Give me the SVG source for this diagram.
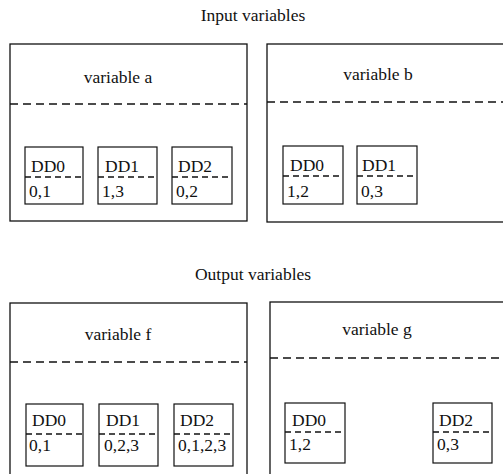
<svg xmlns="http://www.w3.org/2000/svg" width="503" height="474" viewBox="0 0 503 474" font-family="'Liberation Serif', 'DejaVu Serif', serif">
<style>
text{font-family:'Liberation Serif','Times New Roman','DejaVu Serif',serif;fill:#111;font-size:17.5px}
.title{text-anchor:middle}
.vn{text-anchor:middle}
.box{fill:none;stroke:#111;stroke-width:1.3}
.dash{fill:none;stroke:#111;stroke-width:1.3;stroke-dasharray:8 5}
.ddbox{fill:none;stroke:#111;stroke-width:1.2}
.dddash{fill:none;stroke:#111;stroke-width:1.3;stroke-dasharray:6 4}
.dd{font-size:17.5px}
</style>
<rect width="503" height="474" fill="#fff"/>
<text class="title" x="253" y="21">Input variables</text>
<text class="title" x="253" y="280">Output variables</text>

<g id="var-a">
<rect class="box" x="10" y="44" width="237" height="177"/>
<line class="dash" x1="10" y1="104" x2="247" y2="104"/>
<text class="vn" x="118" y="83">variable a</text>
</g>
<g id="a-dd0"><rect class="ddbox" x="25" y="147" width="58" height="57"/><line class="dddash" x1="25" y1="177" x2="83" y2="177"/><text class="dd" x="31" y="172">DD0</text><text class="dd" x="29" y="197">0,1</text></g>
<g id="a-dd1"><rect class="ddbox" x="98" y="147" width="59" height="57"/><line class="dddash" x1="98" y1="177" x2="157" y2="177"/><text class="dd" x="105" y="172">DD1</text><text class="dd" x="102" y="197">1,3</text></g>
<g id="a-dd2"><rect class="ddbox" x="172" y="147" width="60" height="57"/><line class="dddash" x1="172" y1="177" x2="232" y2="177"/><text class="dd" x="178" y="172">DD2</text><text class="dd" x="176" y="197">0,2</text></g>

<g id="var-b">
<rect class="box" x="267" y="44" width="250" height="178"/>
<line class="dash" x1="267" y1="102" x2="503" y2="102"/>
<text class="vn" x="378" y="80">variable b</text>
</g>
<g id="b-dd0"><rect class="ddbox" x="283" y="146" width="60" height="58"/><line class="dddash" x1="283" y1="176" x2="343" y2="176"/><text class="dd" x="290" y="171">DD0</text><text class="dd" x="287" y="197">1,2</text></g>
<g id="b-dd1"><rect class="ddbox" x="357" y="146" width="60" height="58"/><line class="dddash" x1="357" y1="176" x2="417" y2="176"/><text class="dd" x="362" y="171">DD1</text><text class="dd" x="361" y="197">0,3</text></g>

<g id="var-f">
<rect class="box" x="10" y="303" width="237" height="180"/>
<line class="dash" x1="10" y1="362" x2="247" y2="362"/>
<text class="vn" x="118" y="340">variable f</text>
</g>
<g id="f-dd0"><rect class="ddbox" x="26" y="404" width="57" height="62"/><line class="dddash" x1="26" y1="434" x2="83" y2="434"/><text class="dd" x="32" y="426">DD0</text><text class="dd" x="29" y="451">0,1</text></g>
<g id="f-dd1"><rect class="ddbox" x="99" y="404" width="59" height="62"/><line class="dddash" x1="99" y1="434" x2="158" y2="434"/><text class="dd" x="106" y="426">DD1</text><text class="dd" x="104" y="451">0,2,3</text></g>
<g id="f-dd2"><rect class="ddbox" x="174" y="404" width="59" height="62"/><line class="dddash" x1="174" y1="434" x2="233" y2="434"/><text class="dd" x="180" y="426">DD2</text><text class="dd" x="178" y="451">0,1,2,3</text></g>

<g id="var-g">
<rect class="box" x="270" y="302" width="250" height="190"/>
<line class="dash" x1="270" y1="358" x2="503" y2="358"/>
<text class="vn" x="377" y="335">variable g</text>
</g>
<g id="g-dd0"><rect class="ddbox" x="285" y="403" width="60" height="60"/><line class="dddash" x1="285" y1="432" x2="345" y2="432"/><text class="dd" x="292" y="426">DD0</text><text class="dd" x="289" y="450">1,2</text></g>
<g id="g-dd2"><rect class="ddbox" x="433" y="403" width="59" height="60"/><line class="dddash" x1="433" y1="432" x2="492" y2="432"/><text class="dd" x="439" y="426">DD2</text><text class="dd" x="437" y="450">0,3</text></g>
<g id="connectors"/>
</svg>
